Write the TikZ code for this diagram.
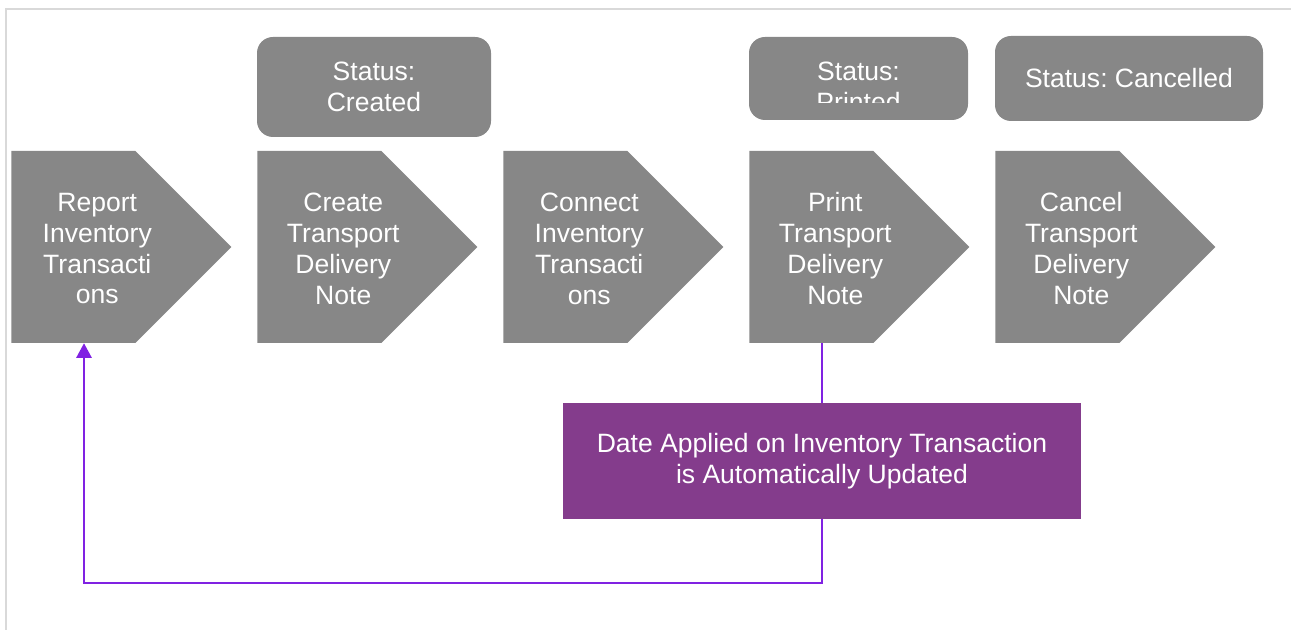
\documentclass[tikz,border=0pt]{standalone}
\usepackage{fontspec}
\setmainfont{Liberation Sans}
\usetikzlibrary{arrows.meta,positioning,shapes.symbols}
\definecolor{stagegray}{RGB}{135,135,135}
\definecolor{notepurple}{RGB}{132,60,140}
\definecolor{flowpurple}{RGB}{128,34,226}
\definecolor{framegray}{RGB}{217,217,217}
\newcommand{\boxfont}{\fontsize{19.9}{23.2}\selectfont\frenchspacing}
\tikzset{
  stage/.style={signal, signal to=east, signal pointer angle=90, fill=stagegray,
                minimum width=165pt, minimum height=144pt, inner sep=0pt, anchor=west},
  stagetext/.style={text=white, align=center, font=\boxfont, minimum width=129pt,
                inner sep=0pt, anchor=west, yshift=-1.2pt},
  status/.style={fill=stagegray, rounded corners=12pt, text=white, align=center,
                font=\boxfont, inner sep=0pt},
  note/.style={fill=notepurple, text=white, align=center, font=\boxfont, inner sep=0pt},
  link/.style={draw=flowpurple, line width=1.5pt},
  flow/.style={link, -{Triangle[width=11.5pt,length=11pt]}}
}
\newcommand{\stage}{\node[stage]}

\begin{document}
\begin{tikzpicture}[x=0.75pt, y=-0.75pt]
\useasboundingbox (0,0) rectangle (1291,630);
\draw[framegray, line width=1.5pt] (6,630) -- (6,9) -- (1291,9);

% process steps
\stage (report) at (11,247) {};
\stage (create) at (257,247) {};
\stage (connect) at (503,247) {};
\stage (print) at (749,247) {};
\stage (cancel) at (995,247) {};
\node[stagetext] (report-text) at (report.west) {Report\\Inventory\\Transacti\\ons};
\node[stagetext] (create-text) at (create.west) {Create\\Transport\\Delivery\\Note};
\node[stagetext] (connect-text) at (connect.west) {Connect\\Inventory\\Transacti\\ons};
\node[stagetext] (print-text) at (print.west) {Print\\Transport\\Delivery\\Note};
\node[stagetext] (cancel-text) at (cancel.west) {Cancel\\Transport\\Delivery\\Note};

% status boxes
\node[status, minimum width=175.5pt, minimum height=75pt] (created) at (374,87) {Status:\\Created};
\node[status, minimum width=164.25pt, minimum height=62.25pt] (printed) at (858.5,78.5) {};
\begin{scope}
  \clip (749,37) rectangle (968,102.5);
  \node[status, fill=none] (printed-text) at (858.5,86.5) {Status:\\Printed};
\end{scope}
\node[status, minimum width=201pt, minimum height=63.75pt] (cancelled) at (1129,78.5) {Status: Cancelled};

% date update
\node[note, minimum width=388.5pt, minimum height=87pt] (update) at (822,461)
  {Date Applied on Inventory Transaction\\is Automatically Updated};
\coordinate (corner) at (84,583);
\draw[link] (update.north) -- (update.north |- print.south);
\draw[flow] (update.south) |- (corner) -- (corner |- report.south);
\end{tikzpicture}
\end{document}
